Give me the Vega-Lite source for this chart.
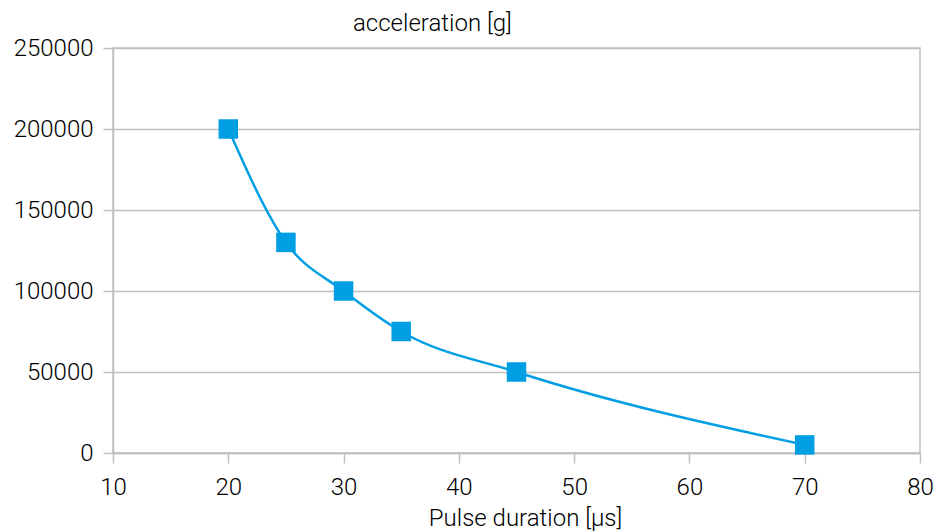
{
  "$schema": "https://vega.github.io/schema/vega-lite/v6.json",
  "width": 807,
  "height": 405,
  "autosize": {"type": "none"},
  "padding": {"left": 113, "top": 48, "right": 16, "bottom": 78},
  "background": "white",
  "title": {
    "text": "acceleration [g]",
    "anchor": "start",
    "frame": "group",
    "dx": 240,
    "offset": 0,
    "font": "Roboto",
    "fontWeight": 300,
    "fontSize": 24,
    "color": "#000000"
  },
  "config": {
    "view": {"stroke": "#c0c0c0", "strokeWidth": 1.5},
    "axis": {
      "labelFont": "Roboto",
      "labelFontWeight": 300,
      "labelFontSize": 24,
      "labelColor": "#000000",
      "titleFont": "Roboto",
      "titleFontWeight": 300,
      "titleFontSize": 24,
      "titleColor": "#000000",
      "domainColor": "#c0c0c0",
      "domainWidth": 1.5,
      "tickColor": "#c0c0c0",
      "tickWidth": 1.5,
      "tickSize": 10,
      "gridColor": "#c0c0c0",
      "gridWidth": 1.5
    }
  },
  "data": {
    "values": [
      {"duration": 20, "acceleration": 200000},
      {"duration": 25, "acceleration": 130000},
      {"duration": 30, "acceleration": 100000},
      {"duration": 35, "acceleration": 75000},
      {"duration": 45, "acceleration": 50000},
      {"duration": 70, "acceleration": 5000}
    ]
  },
  "layer": [
    {
      "mark": {"type": "line", "interpolate": "monotone", "color": "#009fe3", "strokeWidth": 2.5},
      "encoding": {
        "x": {
          "field": "duration",
          "type": "quantitative",
          "scale": {"domain": [10, 80], "nice": false},
          "axis": {
            "values": [10, 20, 30, 40, 50, 60, 70, 80],
            "grid": false,
            "title": "Pulse duration [µs]",
            "titleX": 412,
            "labelPadding": 12,
            "titlePadding": 7,
            "labelFlush": false,
            "labelOverlap": false
          }
        },
        "y": {
          "field": "acceleration",
          "type": "quantitative",
          "scale": {"domain": [0, 250000], "nice": false},
          "axis": {
            "values": [0, 50000, 100000, 150000, 200000, 250000],
            "format": "d",
            "title": null,
            "labelPadding": 10,
            "labelFlush": false,
            "labelOverlap": false
          }
        }
      }
    },
    {
      "mark": {"type": "point", "shape": "square", "filled": true, "opacity": 1, "color": "#009fe3", "size": 380},
      "encoding": {
        "x": {"field": "duration", "type": "quantitative"},
        "y": {"field": "acceleration", "type": "quantitative"}
      }
    }
  ]
}
